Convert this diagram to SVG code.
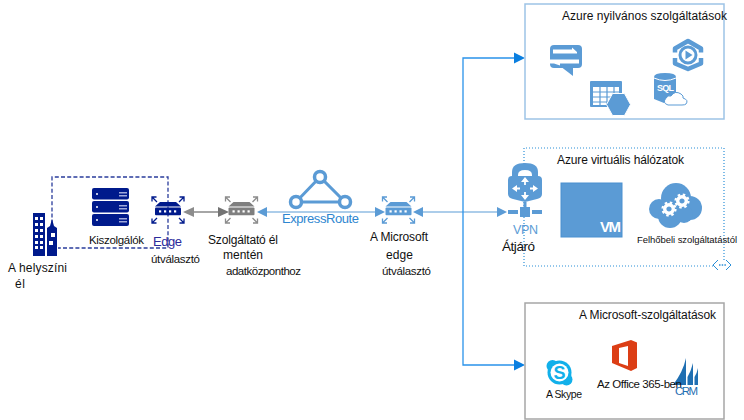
<svg xmlns="http://www.w3.org/2000/svg" width="744" height="420" viewBox="0 0 744 420">
<style>
text{font-family:"Liberation Sans",Arial,sans-serif;font-size:12px;fill:#111}
.blue{fill:#5b9bd5}
.navy{fill:#001a8c}
.box{fill:#fff;stroke-width:1.5}
.link{fill:none;stroke:#5b9bd5;stroke-width:1.2}
.tree{fill:none;stroke:#2a93ea;stroke-width:1.3}
.head{fill:#0a7fe0}
.arr{fill:none;stroke-width:1.3}
</style>
<defs>
<g id="router">
<path d="M-8 -9H8L13 -4.4H-13Z"/>
<rect x="-13" y="-3.6" width="26" height="7.8" rx="1"/>
<g fill="#fff"><rect x="-9" y="-.7" width="2.2" height="2.2"/><rect x="-4" y="-.7" width="2.2" height="2.2"/><rect x="1" y="-.7" width="2.2" height="2.2"/><rect x="6" y="-.7" width="2.2" height="2.2"/></g>
</g>
<path id="arrows" d="M-11 -9L-16 -14M-16 -9.500V-14H-11.500M11 -9L16 -14M16 -9.500V-14H11.500M-11 7L-16 12M-16 7.500V12H-11.500M11 7L16 12M16 7.500V12H11.500"/>
<g id="gear"><circle r="4.300" fill="none" stroke="#fff" stroke-width="3.400"/><circle r="6.500" fill="none" stroke="#fff" stroke-width="2.200" stroke-dasharray="2.500 2.600"/></g>
</defs>
<g id="connectors">
<path d="M52 230V177H168V248H58" fill="none" stroke="#2a3c9c" stroke-width="1.300" stroke-dasharray="4 2.200"/>
<path d="M190 212H222" fill="none" stroke="#a6a6a6" stroke-width="2"/>
<path d="M183 212L194 207V217Z" fill="#8c8c8c"/>
<path d="M229 212L218 207V217Z" fill="#737373"/>
<path class="link" d="M262 212H380M418 212H502"/>
<path class="blue" d="M257 212L267 207V217Z"/>
<path class="blue" d="M385 212L375 207V217Z"/>
<path class="blue" d="M413 212L423 207V217Z"/>
<path class="blue" d="M507 212L497 207V217Z"/>
<path class="tree" d="M520 58H463V365H520"/>
<path class="head" d="M525 58L514 52.500V63.500Z"/>
<path class="head" d="M525 365L514 359.500V370.500Z"/>
</g>
<g id="public-services">
<rect class="box" x="525" y="4" width="199" height="115" stroke="#9dc3e6"/>
<text x="562" y="20" textLength="165">Azure nyilvános szolgáltatások</text>
<rect class="blue" x="550" y="45" width="32" height="23" rx="4"/>
<path class="blue" d="M560 66H573V76Z"/>
<g fill="#fff"><path d="M553 49.500H572V47.500L577 52L577 53.500H553Z"/><path d="M550 59.500H579V63.500H560V65.500L554 63.500H550Z"/></g>
<rect class="blue" x="590" y="81" width="32" height="26" rx="1"/>
<g fill="#fff"><rect x="593" y="87" width="26" height="18"/></g>
<g stroke="#5b9bd5" stroke-width="1.200"><path d="M593 92H619M593 97H619M593 102H619M600 87V105M607 87V105M614 87V105"/></g>
<path class="blue" stroke="#fff" d="M606.500 104.500L612.500 93.500H624.500L630.500 104.500L624.500 115.500H612.500Z"/>
<path d="M688 41L701 48.500V63.500L688 69L675 63.500V48.500Z" fill="none" stroke="#5b9bd5" stroke-width="4.500" stroke-linejoin="round"/>
<path d="M671 52.500H680V58H671ZM696 52.500H706V58H696Z" fill="#fff"/>
<circle cx="688" cy="55" r="8" fill="#fff" stroke="#5b9bd5" stroke-width="3"/>
<path class="blue" d="M685.500 50.500L692.500 55L685.500 59.500Z"/>
<path class="blue" d="M654 77Q654 73 665 73Q676 73 676 77V98H670L664 103L654 99Z"/>
<path d="M654 78Q665 83 676 78" fill="none" stroke="#fff" stroke-width="1"/>
<text x="657" y="91" textLength="17" style="font-size:9px;font-weight:bold;fill:#fff">SQL</text>
<path d="M668 105Q662 103 666 98Q668 95 671 96Q675 90 681 94Q684 96 683 98Q689 100 686 104Q685 105 682 105Z" fill="#fff" stroke="#5b9bd5" stroke-width="1"/>
</g>
<g id="virtual-networks">
<path d="M713 266H524V148H724V260" fill="none" stroke="#2b8fd8" stroke-width="1.200" stroke-dasharray="1 2"/>
<text x="557" y="164" textLength="127">Azure virtuális hálózatok</text>
<rect class="blue" x="561" y="183" width="61" height="54" stroke="#4a90d0"/>
<text x="600" y="232" textLength="21" style="font-size:15px;font-weight:bold;fill:#fff">VM</text>
<g class="blue"><circle cx="676" cy="198" r="15"/><circle cx="690" cy="208" r="12"/><circle cx="659" cy="209" r="10"/><circle cx="670" cy="216" r="12"/><circle cx="684" cy="214" r="9"/></g>
<use href="#gear" x="669" y="209"/><use href="#gear" x="682" y="201"/>
<text x="637" y="243" textLength="100" style="font-size:9.500px">Felhőbeli szolgáltatástól</text>
<path d="M718 260L713 265L718 270M726 260L731 265L726 270" fill="none" stroke="#2b8fd8" stroke-width="1"/>
<path d="M719 265H726" stroke="#2b8fd8" stroke-width="1.500" stroke-dasharray="1.500 1.200"/>
</g>
<g id="vpn-gateway">
<path class="blue" d="M512 178V172Q512 163 525 163Q538 163 538 172V178Z"/>
<path fill="#fff" d="M518 177V175Q518 170 525 170Q532 170 532 175V177Z"/>
<path class="blue" d="M508 180Q508 176 512 176H538Q542 176 542 180V194Q542 198 537 199L525 202L513 199Q508 198 508 194Z"/>
<g fill="none" stroke="#fff" stroke-width="1.800"><path d="M525 181V185M525 192V196M515 188.500H520M530 188.500H535"/></g>
<g fill="#fff"><path d="M525 177L529 182H521ZM525 200L521 195H529ZM512 188.500L517 185V192ZM538 188.500L533 185V192Z"/></g>
<path class="blue" d="M508 210H518V214H508ZM532 210H542V214H532Z"/>
<rect class="blue" x="520" y="207" width="10" height="10"/>
<rect class="blue" x="523.500" y="202" width="3" height="5"/>
<text x="513" y="234" textLength="25" style="font-size:12.500px;fill:#5b9bd5">VPN</text>
<text x="502" y="251" textLength="33" style="font-size:13.500px">Átjáró</text>
</g>
<g id="microsoft-services">
<rect class="box" x="525" y="303" width="199" height="116" stroke="#a6a6a6"/>
<text x="579" y="319" textLength="137">A Microsoft-szolgáltatások</text>
<path d="M612 346L631 340L637 342.500V368L631 371L612 363Z" fill="#dc3e15"/>
<path d="M619 348L628 346V366L619 363Z" fill="#fff"/>
<path d="M673 385Q683 372 686 358V385ZM687.500 385V377Q691 371 693 363V385ZM694.500 385V377Q697 373 698 368V385Z" fill="#1f6fb2"/>
<text x="597" y="388" textLength="85" style="font-size:11.500px">Az Office 365-ben</text>
<g fill="#12b0ea"><circle cx="559.500" cy="372.500" r="12"/><circle cx="552.500" cy="366" r="6"/><circle cx="566.500" cy="379.500" r="6"/></g>
<circle cx="559.500" cy="372.500" r="9" fill="#fff"/>
<text x="553.500" y="379" style="font-size:18px;font-weight:bold;fill:#12b0ea">S</text>
<text x="546" y="398" textLength="36" style="font-size:10.500px">A Skype</text>
<text x="675" y="395" textLength="23" style="font-size:11.500px;fill:#1f6fb2">CRM</text>
</g>
<g id="on-premises">
<rect x="33" y="213" width="12" height="43" fill="#001a8c"/>
<g fill="#fff"><rect x="35" y="217" width="3" height="3"/><rect x="40" y="217" width="3" height="3"/><rect x="35" y="223" width="3" height="3"/><rect x="40" y="223" width="3" height="3"/><rect x="35" y="229" width="3" height="3"/><rect x="40" y="229" width="3" height="3"/><rect x="35" y="235" width="3" height="3"/><rect x="40" y="235" width="3" height="3"/><rect x="35" y="241" width="3" height="3"/><rect x="40" y="241" width="3" height="3"/><rect x="35" y="246" width="3" height="3"/><rect x="40" y="246" width="3" height="3"/></g>
<path d="M47 256V228L50 226L52 219L54 226L57 228V256Z" fill="#001a8c"/>
<rect x="51" y="233" width="4" height="4" fill="#fff"/><rect x="49" y="241" width="4" height="4" fill="#fff"/>
<text x="8" y="272" textLength="59">A helyszíni</text>
<text x="15" y="288" textLength="10">él</text>
</g>
<g id="servers" class="navy">
<rect x="92" y="188" width="37" height="11.500" rx="2"/><rect x="92" y="201" width="37" height="11.500" rx="2"/><rect x="92" y="214" width="37" height="12" rx="2"/>
<g fill="#fff"><circle cx="97" cy="194" r="1"/><circle cx="97" cy="207" r="1"/><circle cx="97" cy="220" r="1"/></g>
<g fill="#9fa8da"><rect x="119" y="192" width="8" height="1.500"/><rect x="119" y="195" width="8" height="1.500"/><rect x="119" y="205" width="8" height="1.500"/><rect x="119" y="208" width="8" height="1.500"/><rect x="119" y="218" width="8" height="1.500"/><rect x="119" y="221" width="8" height="1.500"/></g>
<text x="89" y="244" textLength="55" style="font-size:11.500px">Kiszolgálók</text>
</g>
<g id="edge-router">
<use href="#router" x="168" y="211" fill="#001a8c"/>
<use href="#arrows" x="168" y="211" class="arr" stroke="#001a8c"/>
<text x="153" y="246" textLength="29" style="font-size:13px;fill:#2b2b9b">Edge</text>
<text x="151" y="263" textLength="49" style="font-size:11.500px">útválasztó</text>
</g>
<g id="provider-edge">
<use href="#router" x="241.500" y="211" fill="#7f7f7f"/>
<use href="#arrows" x="241.500" y="211" class="arr" stroke="#8c8c8c"/>
<text x="208" y="244" textLength="70">Szolgáltató él</text>
<text x="223" y="259" textLength="40">mentén</text>
<text x="226" y="275" textLength="75" style="font-size:11.500px">adatközponthoz</text>
</g>
<g id="expressroute">
<path d="M320 177L296 202H345Z" fill="none" stroke="#5b9bd5" stroke-width="3"/>
<circle cx="320" cy="177" r="5.500" fill="#fff" stroke="#5b9bd5" stroke-width="3.500"/>
<circle cx="296" cy="202" r="5.500" fill="#fff" stroke="#5b9bd5" stroke-width="3.500"/>
<circle cx="345" cy="202" r="5.500" fill="#fff" stroke="#5b9bd5" stroke-width="3.500"/>
<text x="282" y="223" textLength="77" style="font-size:13px;fill:#2e86d0">ExpressRoute</text>
</g>
<g id="microsoft-edge">
<use href="#router" x="398.500" y="211" fill="#5b9bd5"/>
<use href="#arrows" x="398.500" y="211" class="arr" stroke="#5b9bd5"/>
<text x="370" y="241" textLength="58">A Microsoft</text>
<text x="386" y="259" textLength="27">edge</text>
<text x="382" y="275" textLength="49" style="font-size:11.500px">útválasztó</text>
</g>
</svg>
